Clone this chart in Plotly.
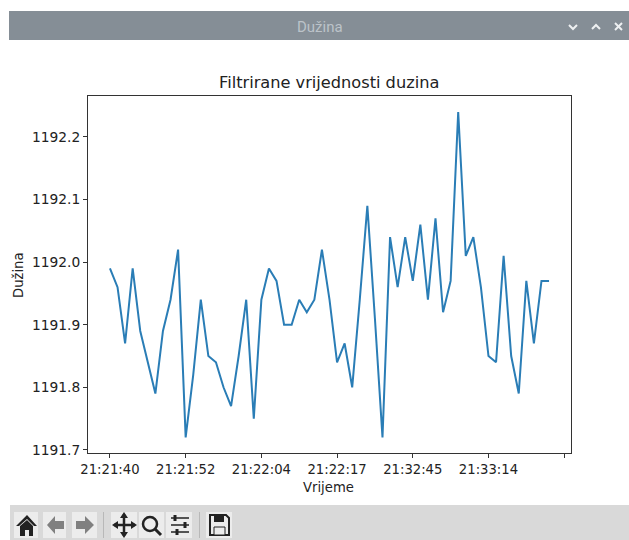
import plotly.graph_objects as go

W, H = 629, 540
title = "Filtrirane vrijednosti duzina"
window_title = "Dužina"
x_label = "Vrijeme"
y_label = "Dužina"
tick_labels = ["21:21:40", "21:21:52", "21:22:04", "21:22:17", "21:32:45", "21:33:14", ""]
tick_positions = [0, 10, 20, 30, 40, 50, 60]
y_ticks = [1191.7, 1191.8, 1191.9, 1192.0, 1192.1, 1192.2]
sample_index = list(range(59))
duzina = [
    1191.99, 1191.96, 1191.87, 1191.99, 1191.89, 1191.84, 1191.79, 1191.89, 1191.94, 1192.02,
    1191.72, 1191.82, 1191.94, 1191.85, 1191.84, 1191.80, 1191.77, 1191.85, 1191.94, 1191.75,
    1191.94, 1191.99, 1191.97, 1191.90, 1191.90, 1191.94, 1191.92, 1191.94, 1192.02, 1191.94,
    1191.84, 1191.87, 1191.80, 1191.94, 1192.09, 1191.91, 1191.72, 1192.04, 1191.96, 1192.04,
    1191.97, 1192.06, 1191.94, 1192.07, 1191.92, 1191.97, 1192.24, 1192.01, 1192.04, 1191.96,
    1191.85, 1191.84, 1192.01, 1191.85, 1191.79, 1191.97, 1191.87, 1191.97, 1191.97,
]

FONT = "DejaVu Sans"
PX = lambda v: v / W
PY = lambda v: 1 - v / H


def rect(x0, y0, x1, y1, fill, line=None):
    return dict(type="rect", xref="paper", yref="paper", x0=PX(x0), x1=PX(x1), y0=PY(y1), y1=PY(y0),
                fillcolor=fill, line=dict(color=line or fill, width=1 if line else 0), layer="below")


def path(points, fill=None, line=None, width=1.5, closed=True):
    d = "M " + " L ".join(f"{PX(x):.5f} {PY(y):.5f}" for x, y in points) + (" Z" if closed else "")
    return dict(type="path", xref="paper", yref="paper", path=d, fillcolor=fill or "rgba(0,0,0,0)",
                line=dict(color=line or "rgba(0,0,0,0)", width=width), layer="above")


DARK = "#222222"
GREY = "#808080"
shapes = [
    rect(9, 11, 629, 40, "#858e96"),
    rect(10, 505, 629, 540, "#d9d9d9"),
]
for x0, x1 in [(14, 38), (43, 66), (72, 97), (111, 137), (139, 164), (166, 192), (206, 232)]:
    shapes.append(rect(x0, 512, x1, 538, "#ececec"))
for x in [103, 199]:
    shapes.append(rect(x, 512, x + 1, 538, "#b8b8b8"))
# home
shapes += [
    path([(16, 526), (27, 515), (37, 526), (34, 526), (27, 519), (19, 526)], DARK),
    path([(20, 526), (27, 520), (33, 526), (33, 536), (29, 536), (29, 530), (25, 530), (25, 536), (20, 536)], DARK),
]
# back / forward
shapes += [
    path([(47, 525), (55, 516), (55, 521), (64, 521), (64, 529), (55, 529), (55, 534)], GREY),
    path([(94, 525), (85, 516), (85, 521), (76, 521), (76, 529), (85, 529), (85, 534)], GREY),
]
# pan
shapes += [
    path([(124, 514), (124, 536)], None, DARK, 2.5, False),
    path([(114, 525), (135, 525)], None, DARK, 2.5, False),
    path([(124, 512), (120, 518), (128, 518)], DARK),
    path([(124, 538), (120, 532), (128, 532)], DARK),
    path([(112, 525), (118, 521), (118, 529)], DARK),
    path([(137, 525), (131, 521), (131, 529)], DARK),
]
# zoom
shapes += [
    dict(type="circle", xref="paper", yref="paper", x0=PX(143), x1=PX(157), y0=PY(531), y1=PY(517),
         line=dict(color=DARK, width=2.5), layer="above"),
    path([(155, 529), (161, 535)], None, DARK, 3, False),
]
# sliders
for y, kx in [(518, 175), (525, 185), (532, 177)]:
    shapes.append(path([(171, y), (189, y)], None, DARK, 1.5, False))
    shapes.append(rect(kx - 1.5, y - 3, kx + 1.5, y + 3, DARK) | {"layer": "above"})
# save
shapes += [
    path([(210, 515), (226, 515), (229, 518), (229, 535), (210, 535)], None, DARK, 2),
    rect(214, 515, 224, 522, DARK) | {"layer": "above"},
    rect(214, 527, 225, 535, "#ececec", DARK) | {"layer": "above"},
]
# window buttons
shapes += [
    path([(569, 25), (573, 29), (577, 25)], None, "#eef0f2", 2, False),
    path([(592, 29), (596, 25), (600, 29)], None, "#eef0f2", 2, False),
    path([(615, 23), (622, 30)], None, "#eef0f2", 2, False),
    path([(622, 23), (615, 30)], None, "#eef0f2", 2, False),
]

fig = go.Figure(go.Scatter(x=sample_index, y=duzina, mode="lines",
                           line=dict(color="#2a7db6", width=2), hoverinfo="skip"))

axis_common = dict(showgrid=False, zeroline=False, showline=True, mirror=True, linecolor="#333333",
                   linewidth=1, ticks="outside", ticklen=4, tickwidth=1, tickcolor="#333333",
                   automargin=False)
fig.update_layout(
    width=W, height=H, autosize=False, showlegend=False,
    margin=dict(l=0, r=0, t=0, b=0, pad=0, autoexpand=False),
    paper_bgcolor="white", plot_bgcolor="white",
    font=dict(family=FONT, color="#222222"),
    xaxis=dict(domain=[PX(88), PX(571)], range=[-2.9, 60.9], tickmode="array",
               tickvals=tick_positions, ticktext=tick_labels, tickangle=0,
               tickfont=dict(family=FONT, size=13.2, color="#222222"), **axis_common),
    yaxis=dict(domain=[PY(453), PY(96)], range=[1191.695, 1192.2655], tickmode="array",
               tickvals=y_ticks, ticktext=[f"{v:.1f}" for v in y_ticks],
               tickfont=dict(family=FONT, size=13.8, color="#222222"), **axis_common),
    shapes=shapes,
    annotations=[
        dict(text=title, xref="paper", yref="paper", x=PX(329), y=PY(82), showarrow=False,
             font=dict(family=FONT, size=16.2, color="#222222"), xanchor="center", yanchor="middle"),
        dict(text=window_title, xref="paper", yref="paper", x=PX(320), y=PY(27), showarrow=False,
             font=dict(family="Roboto", size=15, color="#bcc3c9"), xanchor="center", yanchor="middle"),
        dict(text=x_label, xref="paper", yref="paper", x=PX(328), y=PY(487), showarrow=False,
             font=dict(family=FONT, size=13.2, color="#222222"), xanchor="center", yanchor="middle"),
        dict(text=y_label, xref="paper", yref="paper", x=PX(18), y=PY(275), showarrow=False, textangle=-90,
             font=dict(family=FONT, size=13.2, color="#222222"), xanchor="center", yanchor="middle"),
    ],
)
fig.write_html("out.html", config={"displayModeBar": False},
               post_script="document.body.style.margin='0';document.documentElement.style.overflow='hidden';")
